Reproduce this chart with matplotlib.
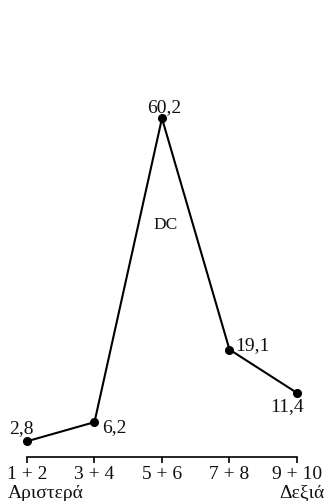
import matplotlib
matplotlib.use('Agg')
import matplotlib.pyplot as plt

plt.rcParams['font.family'] = ['Liberation Serif', 'DejaVu Serif']

# Δεδομένα
categories = ['1 + 2', '3 + 4', '5 + 6', '7 + 8', '9 + 10']
values = [2.8, 6.2, 60.2, 19.1, 11.4]
value_labels = ['2,8', '6,2', '60,2', '19,1', '11,4']
left_label = 'Αριστερά'
right_label = 'Δεξιά'
series_label = 'DC'

# θέσεις ετικετών (σε points) και στοίχιση
label_offsets = [(-4.3, 10), (5.5, -3), (1.4, 8.6), (4.3, 3.6), (-7.2, -9.4)]
label_ha = ['center', 'left', 'center', 'left', 'center']

fig = plt.figure(figsize=(3.28, 5.02), dpi=100)
ax = fig.add_axes([0, 0.0876, 1, 0.9124])

x = list(range(len(categories)))
ax.plot(x, values, color='black', lw=1.5, marker='o', ms=5.5, mfc='black', mec='black')

for xi, v, lab, off, ha in zip(x, values, value_labels, label_offsets, label_ha):
    ax.annotate(lab, (xi, v), xytext=off, textcoords='offset points',
                ha=ha, va='center', fontsize=14, color='#111111')

ax.text(2.06, 41.4, series_label, ha='center', va='center', fontsize=12.5, color='#111111')

ax.set_xlim(-0.4, 4.46)
ax.set_ylim(0, 81.4)
ax.set_xticks(x)
ax.set_xticklabels(categories, fontsize=14, color='#111111')
ax.set_yticks([])
for s in ['top', 'right', 'left']:
    ax.spines[s].set_visible(False)
ax.spines['bottom'].set_bounds(0, 4)
ax.spines['bottom'].set_linewidth(1.2)
ax.tick_params(axis='x', direction='out', length=4.5, width=1.2, pad=1)

ax.annotate(left_label, (0, 0), xycoords=('data', 'axes fraction'),
            xytext=(-13.7, -28.5), textcoords='offset points',
            ha='left', va='baseline', fontsize=14, color='#111111', annotation_clip=False)
ax.annotate(right_label, (4, 0), xycoords=('data', 'axes fraction'),
            xytext=(20, -28.5), textcoords='offset points',
            ha='right', va='baseline', fontsize=14, color='#111111', annotation_clip=False)

fig.savefig('out.png', dpi=100)
